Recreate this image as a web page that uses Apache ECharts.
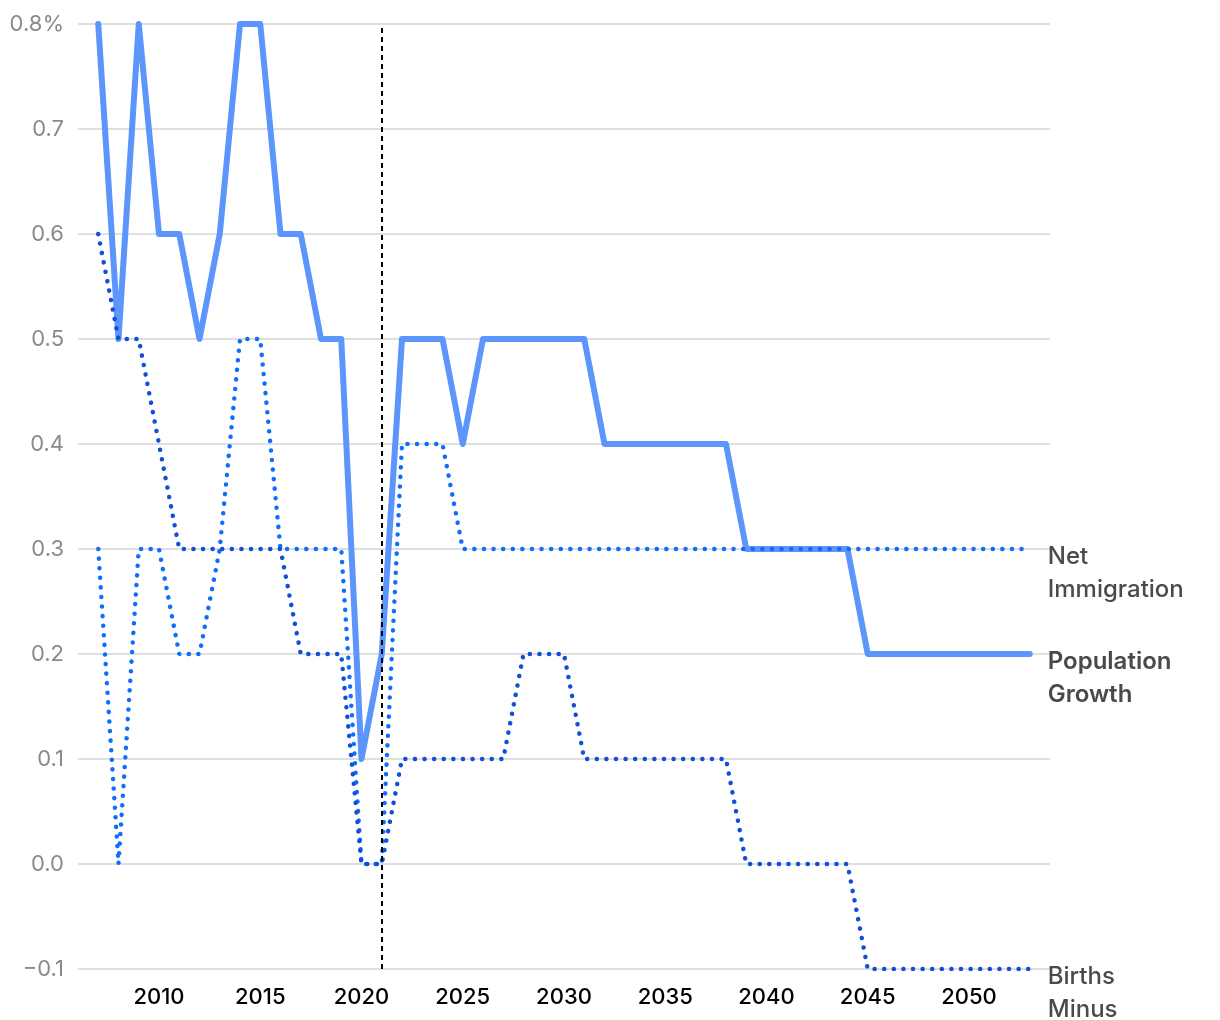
<!DOCTYPE html>
<html>
<head>
<meta charset="utf-8">
<script src="https://cdn.jsdelivr.net/npm/echarts@6/dist/echarts.min.js"></script>
<style>
    html, body {margin: 0; padding: 0; background: #fff;}
    #chart {width: 1220px; height: 1020px;}
</style>
</head>
<body>
<div id="chart"></div>
<script>
// years on the x axis
const years = [
    2007, 2008, 2009, 2010, 2011, 2012, 2013, 2014, 2015, 2016,
    2017, 2018, 2019, 2020, 2021, 2022, 2023, 2024, 2025, 2026,
    2027, 2028, 2029, 2030, 2031, 2032, 2033, 2034, 2035, 2036,
    2037, 2038, 2039, 2040, 2041, 2042, 2043, 2044, 2045, 2046,
    2047, 2048, 2049, 2050, 2051, 2052, 2053
];

const populationGrowth = [
    0.8, 0.5, 0.8, 0.6, 0.6, 0.5, 0.6, 0.8, 0.8, 0.6,
    0.6, 0.5, 0.5, 0.1, 0.2, 0.5, 0.5, 0.5, 0.4, 0.5,
    0.5, 0.5, 0.5, 0.5, 0.5, 0.4, 0.4, 0.4, 0.4, 0.4,
    0.4, 0.4, 0.3, 0.3, 0.3, 0.3, 0.3, 0.3, 0.2, 0.2,
    0.2, 0.2, 0.2, 0.2, 0.2, 0.2, 0.2
];

const netImmigration = [
    0.3, 0.0, 0.3, 0.3, 0.2, 0.2, 0.3, 0.5, 0.5, 0.3,
    0.3, 0.3, 0.3, 0.0, 0.0, 0.4, 0.4, 0.4, 0.3, 0.3,
    0.3, 0.3, 0.3, 0.3, 0.3, 0.3, 0.3, 0.3, 0.3, 0.3,
    0.3, 0.3, 0.3, 0.3, 0.3, 0.3, 0.3, 0.3, 0.3, 0.3,
    0.3, 0.3, 0.3, 0.3, 0.3, 0.3, 0.3
];

const birthsMinusDeaths = [
    0.6, 0.5, 0.5, 0.4, 0.3, 0.3, 0.3, 0.3, 0.3, 0.3,
    0.2, 0.2, 0.2, 0.0, 0.0, 0.1, 0.1, 0.1, 0.1, 0.1,
    0.1, 0.2, 0.2, 0.2, 0.1, 0.1, 0.1, 0.1, 0.1, 0.1,
    0.1, 0.1, 0.0, 0.0, 0.0, 0.0, 0.0, 0.0, -0.1, -0.1,
    -0.1, -0.1, -0.1, -0.1, -0.1, -0.1, -0.1
];

const xTicks = [2010, 2015, 2020, 2025, 2030, 2035, 2040, 2045, 2050];
const markerYear = 2021;

const font = 'Inter, "Noto Sans", sans-serif';

const pairs = (vals) => years.map((y, i) => [y, vals[i]]);

const endLabel = (text, weight) => ({
    show: true,
    formatter: text,
    distance: 18,
    align: 'left',
    verticalAlign: 'top',
    offset: [0, -9],
    color: '#4a4a4a',
    fontFamily: font,
    fontSize: 24,
    fontWeight: weight,
    lineHeight: 33
});

const myChart = echarts.init(document.getElementById('chart'), null, {renderer: 'canvas'});

const option = {
    animation: false,
    grid: {left: 78, right: 170, top: 24, bottom: 51},
    xAxis: {
        type: 'value',
        min: 2006,
        max: 2054,
        axisLine: {show: false},
        axisTick: {show: false},
        splitLine: {show: false},
        axisLabel: {
            customValues: xTicks,
            margin: 17,
            color: '#000',
            fontFamily: font,
            fontSize: 22,
            fontWeight: 500,
            formatter: v => String(v)
        }
    },
    yAxis: {
        type: 'value',
        min: -0.1,
        max: 0.8,
        interval: 0.1,
        axisLine: {show: false},
        axisTick: {show: false},
        splitLine: {lineStyle: {color: '#d3d6d6', width: 1.5}},
        axisLabel: {
            margin: 14,
            color: '#8a8a8a',
            fontFamily: font,
            fontSize: 22,
            formatter: v => {
                const r = Math.round(v * 10) / 10;
                if (r === 0.8) return '0.8%';
                if (r < 0) return '\u2212' + Math.abs(r).toFixed(1);
                return r.toFixed(1);
            }
        }
    },
    series: [
        {
            name: 'Population Growth',
            type: 'line',
            data: pairs(populationGrowth),
            showSymbol: false,
            lineStyle: {color: '#5c95fc', width: 6, cap: 'round', join: 'round'},
            endLabel: endLabel('Population\nGrowth', 600),
            markLine: {
                silent: true,
                symbol: 'none',
                label: {show: false},
                lineStyle: {color: '#000', type: [5, 4], width: 2},
                data: [{xAxis: markerYear}]
            },
            z: 2
        },
        {
            name: 'Net Immigration',
            type: 'line',
            data: pairs(netImmigration),
            showSymbol: false,
            lineStyle: {color: '#0d6efd', width: 4.5, type: [0.1, 9.5], cap: 'round'},
            endLabel: endLabel('Net\nImmigration', 500),
            z: 3
        },
        {
            name: 'Births Minus Deaths',
            type: 'line',
            data: pairs(birthsMinusDeaths),
            showSymbol: false,
            lineStyle: {color: '#0f4fd9', width: 4.5, type: [0.1, 9.5], cap: 'round'},
            endLabel: endLabel('Births\nMinus\nDeaths', 500),
            z: 4
        }
    ]
};

myChart.setOption(option);
</script>
</body>
</html>
